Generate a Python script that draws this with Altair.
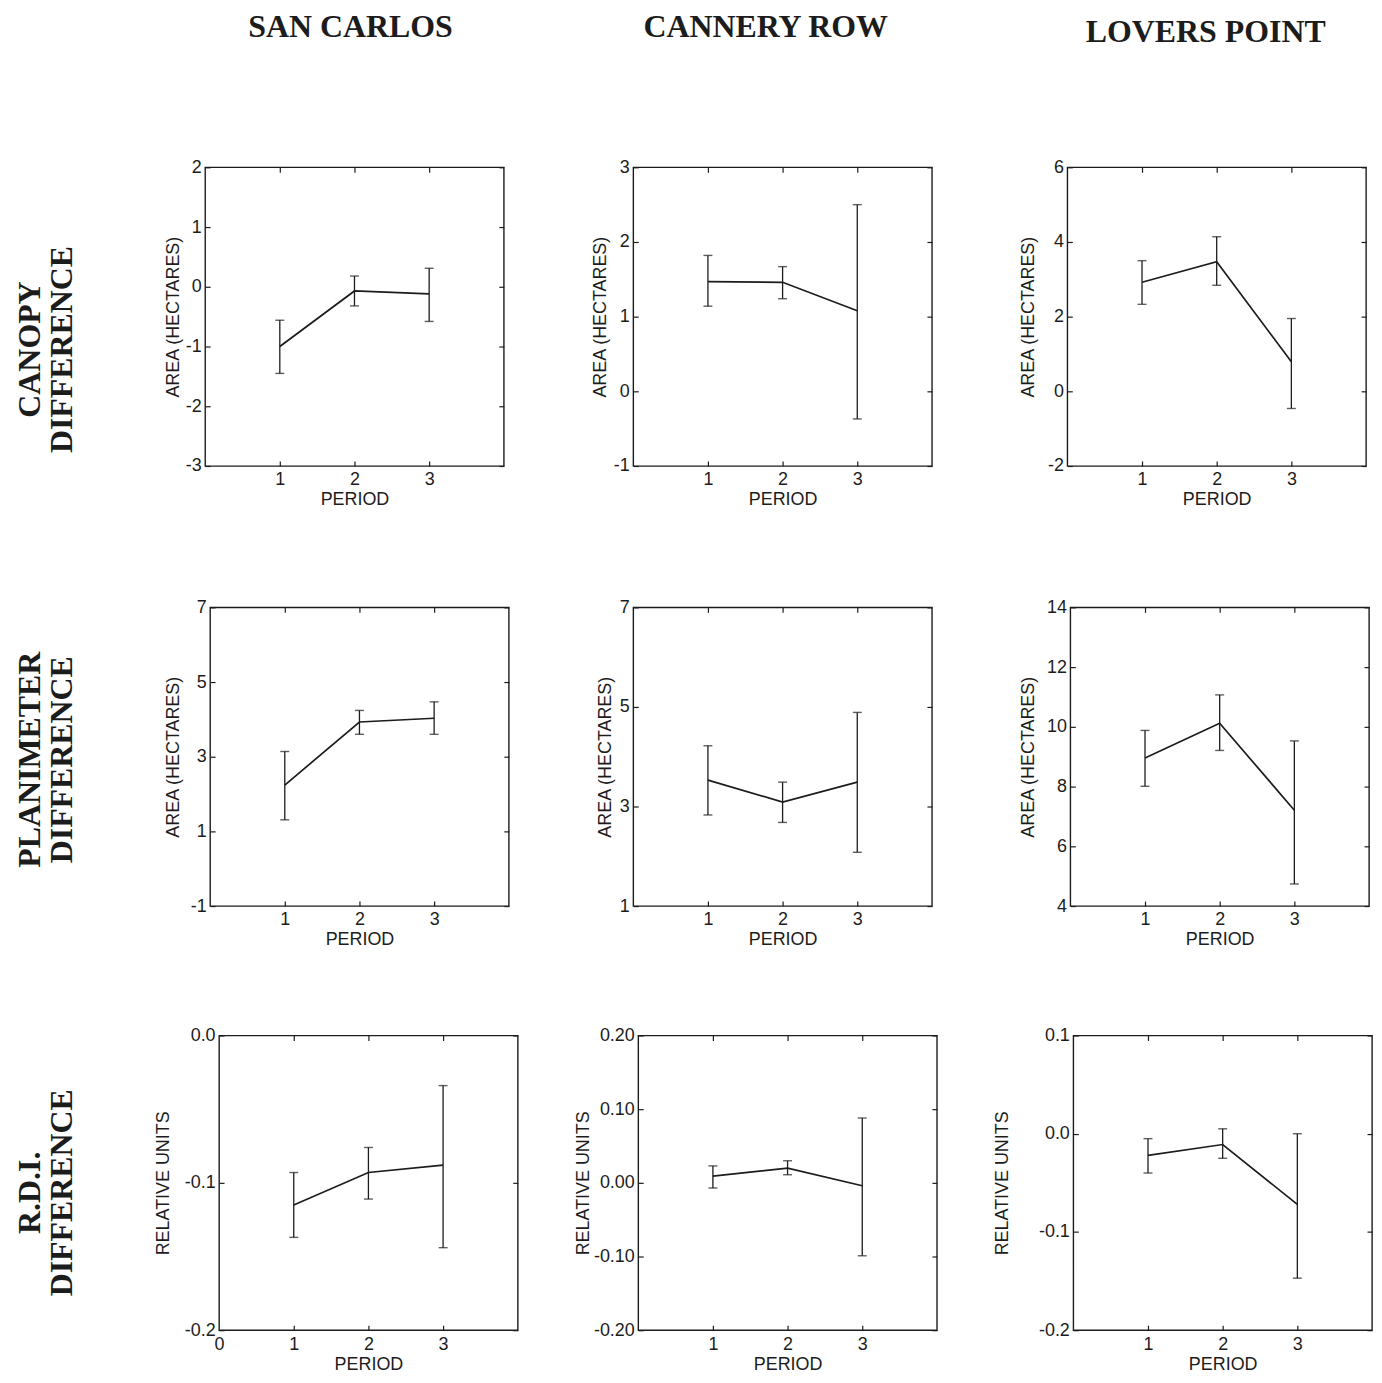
import altair as alt
import pandas as pd

INK = "#1c1c1c"
SERIF = "Liberation Serif"
SANS = "Liberation Sans"

periods = [1, 2, 3]
sites = ["SAN CARLOS", "CANNERY ROW", "LOVERS POINT"]
measures = ["CANOPY\nDIFFERENCE", "PLANIMETER\nDIFFERENCE", "R.D.I.\nDIFFERENCE"]
y_titles = ["AREA (HECTARES)", "AREA (HECTARES)", "RELATIVE UNITS"]

# Canopy difference (hectares): mean and error-bar ends per period
sc_canopy_mean = [-1.00, -0.07, -0.12]
sc_canopy_low = [-1.45, -0.32, -0.58]
sc_canopy_high = [-0.56, 0.18, 0.31]
cr_canopy_mean = [1.47, 1.46, 1.08]
cr_canopy_low = [1.14, 1.24, -0.37]
cr_canopy_high = [1.82, 1.67, 2.50]
lp_canopy_mean = [2.92, 3.47, 0.79]
lp_canopy_low = [2.33, 2.84, -0.46]
lp_canopy_high = [3.50, 4.14, 1.95]

# Planimeter difference (hectares)
sc_plan_mean = [2.24, 3.93, 4.03]
sc_plan_low = [1.31, 3.60, 3.60]
sc_plan_high = [3.14, 4.24, 4.47]
cr_plan_mean = [3.53, 3.09, 3.49]
cr_plan_low = [2.83, 2.68, 2.08]
cr_plan_high = [4.22, 3.49, 4.89]
lp_plan_mean = [8.96, 10.12, 7.21]
lp_plan_low = [8.01, 9.21, 4.74]
lp_plan_high = [9.88, 11.07, 9.53]

# R.D.I. difference (relative units)
sc_rdi_mean = [-0.115, -0.093, -0.088]
sc_rdi_low = [-0.137, -0.111, -0.144]
sc_rdi_high = [-0.093, -0.076, -0.034]
cr_rdi_mean = [0.009, 0.020, -0.004]
cr_rdi_low = [-0.007, 0.011, -0.099]
cr_rdi_high = [0.023, 0.030, 0.088]
lp_rdi_mean = [-0.022, -0.011, -0.072]
lp_rdi_low = [-0.040, -0.025, -0.147]
lp_rdi_high = [-0.005, 0.005, 0.000]

# y-axis tick values
sc_canopy_ticks = [-3, -2, -1, 0, 1, 2]
cr_canopy_ticks = [-1, 0, 1, 2, 3]
lp_canopy_ticks = [-2, 0, 2, 4, 6]
sc_plan_ticks = [-1, 1, 3, 5, 7]
cr_plan_ticks = [1, 3, 5, 7]
lp_plan_ticks = [4, 6, 8, 10, 12, 14]
sc_rdi_ticks = [-0.2, -0.1, 0.0]
cr_rdi_ticks = [-0.2, -0.1, 0.0, 0.1, 0.2]
lp_rdi_ticks = [-0.2, -0.1, 0.0, 0.1]

x_ticks = [1, 2, 3]
x_ticks_with_zero = [0, 1, 2, 3]


def tick_axis(orient, values):
    return alt.Axis(orient=orient, offset=-5, tickSize=5, tickWidth=1.2,
                    tickColor=INK, values=values, labels=False, domain=False,
                    grid=False, title=None, minExtent=0)


def panel(mean, low, high, yticks, fmt, ytitle, extent, xlabels, h=300):
    df = pd.DataFrame({"period": periods, "mean": mean, "low": low, "high": high})
    xs = alt.Scale(domain=[0, 4], nice=False, zero=False)
    ys = alt.Scale(domain=[min(yticks), max(yticks)], nice=False, zero=False)
    lab = "replace(format(datum.value, '%s'), '\u2212', '-')" % fmt
    base = alt.Chart(df)
    x_main = alt.X("period:Q", scale=xs,
                   axis=alt.Axis(values=xlabels, format="d", title="PERIOD",
                                 ticks=False, tickSize=0, domain=False, grid=False,
                                 labelFlush=False, labelPadding=5, titlePadding=2))
    y_main = alt.Y("mean:Q", scale=ys,
                   axis=alt.Axis(values=yticks, labelExpr=lab, title=ytitle,
                                 ticks=False, tickSize=0, domain=False, grid=False,
                                 labelFlush=False, labelPadding=4, titlePadding=0,
                                 minExtent=extent, maxExtent=extent))
    x_plain = alt.X("period:Q", scale=xs, axis=None)
    line = base.mark_line(color=INK, strokeWidth=1.7).encode(x=x_main, y=y_main)
    bars = base.mark_rule(color=INK, strokeWidth=1.3).encode(
        x=x_plain, y=alt.Y("low:Q", scale=ys, axis=None), y2="high:Q")
    cap_lo = base.mark_tick(orient="horizontal", size=9, thickness=1.4, color=INK).encode(
        x=x_plain, y=alt.Y("low:Q", scale=ys, axis=None))
    cap_hi = base.mark_tick(orient="horizontal", size=9, thickness=1.4, color=INK).encode(
        x=x_plain, y=alt.Y("high:Q", scale=ys, axis=None))
    ticks_a = base.mark_point(opacity=0).encode(
        x=alt.X("period:Q", scale=xs, axis=tick_axis("bottom", x_ticks)),
        y=alt.Y("mean:Q", scale=ys, axis=tick_axis("left", yticks)))
    ticks_b = base.mark_point(opacity=0).encode(
        x=alt.X("period:Q", scale=xs, axis=tick_axis("top", x_ticks)),
        y=alt.Y("mean:Q", scale=ys, axis=tick_axis("right", yticks)))
    return alt.layer(line, bars, cap_lo, cap_hi, ticks_a, ticks_b).resolve_axis(
        x="independent", y="independent").properties(width=300, height=h)


def row_label(text, width, height, cy):
    df = pd.DataFrame({"t": [text]})
    return alt.Chart(df).mark_text(
        font=SERIF, fontSize=32, fontWeight="bold", angle=270, lineBreak="\n",
        lineHeight=32, align="center", baseline="middle", color=INK
    ).encode(text="t:N", x=alt.value(22), y=alt.value(cy)).properties(
        width=width, height=height,
        view=alt.ViewBackground(stroke="transparent", strokeWidth=0))


header_x = [344, 761, 1203]
header_y = [16, 16, 21]
header_layers = []
for name, hx, hy in zip(sites, header_x, header_y):
    header_layers.append(
        alt.Chart(pd.DataFrame({"site": [name]})).mark_text(
            font=SERIF, fontSize=32, fontWeight="bold", align="center",
            baseline="middle", color=INK
        ).encode(text="site:N", x=alt.value(hx), y=alt.value(hy)))
header = alt.layer(*header_layers).properties(
    width=1355, height=147,
    view=alt.ViewBackground(stroke="transparent", strokeWidth=0))

row1 = alt.hconcat(
    row_label(measures[0], 71, 432, 183),
    panel(sc_canopy_mean, sc_canopy_low, sc_canopy_high, sc_canopy_ticks, "d", y_titles[0], 23, x_ticks),
    panel(cr_canopy_mean, cr_canopy_low, cr_canopy_high, cr_canopy_ticks, "d", y_titles[0], 24, x_ticks),
    panel(lp_canopy_mean, lp_canopy_low, lp_canopy_high, lp_canopy_ticks, "d", y_titles[0], 30, x_ticks),
    spacing=85)

row2 = alt.hconcat(
    row_label(measures[1], 71, 420, 153),
    panel(sc_plan_mean, sc_plan_low, sc_plan_high, sc_plan_ticks, "d", y_titles[1], 28, x_ticks),
    panel(cr_plan_mean, cr_plan_low, cr_plan_high, cr_plan_ticks, "d", y_titles[1], 19, x_ticks),
    panel(lp_plan_mean, lp_plan_low, lp_plan_high, lp_plan_ticks, "d", y_titles[1], 33, x_ticks),
    spacing=85)

row3 = alt.hconcat(
    row_label(measures[2], 92, 296, 158),
    panel(sc_rdi_mean, sc_rdi_low, sc_rdi_high, sc_rdi_ticks, ".1f", y_titles[2], 47, x_ticks_with_zero, 296),
    panel(cr_rdi_mean, cr_rdi_low, cr_rdi_high, cr_rdi_ticks, ".2f", y_titles[2], 46, x_ticks, 296),
    panel(lp_rdi_mean, lp_rdi_low, lp_rdi_high, lp_rdi_ticks, ".1f", y_titles[2], 62, x_ticks, 296),
    spacing=54)

chart = alt.vconcat(header, row1, row2, row3, spacing=0).configure_view(
    stroke=INK, strokeWidth=1.4
).configure_axis(
    labelFont=SANS, titleFont=SANS, labelFontSize=18, titleFontSize=18,
    titleFontWeight="normal", labelColor=INK, titleColor=INK
).properties(padding=0, background="white")

chart.save("out.html", embed_options={"renderer": "svg", "actions": False})
